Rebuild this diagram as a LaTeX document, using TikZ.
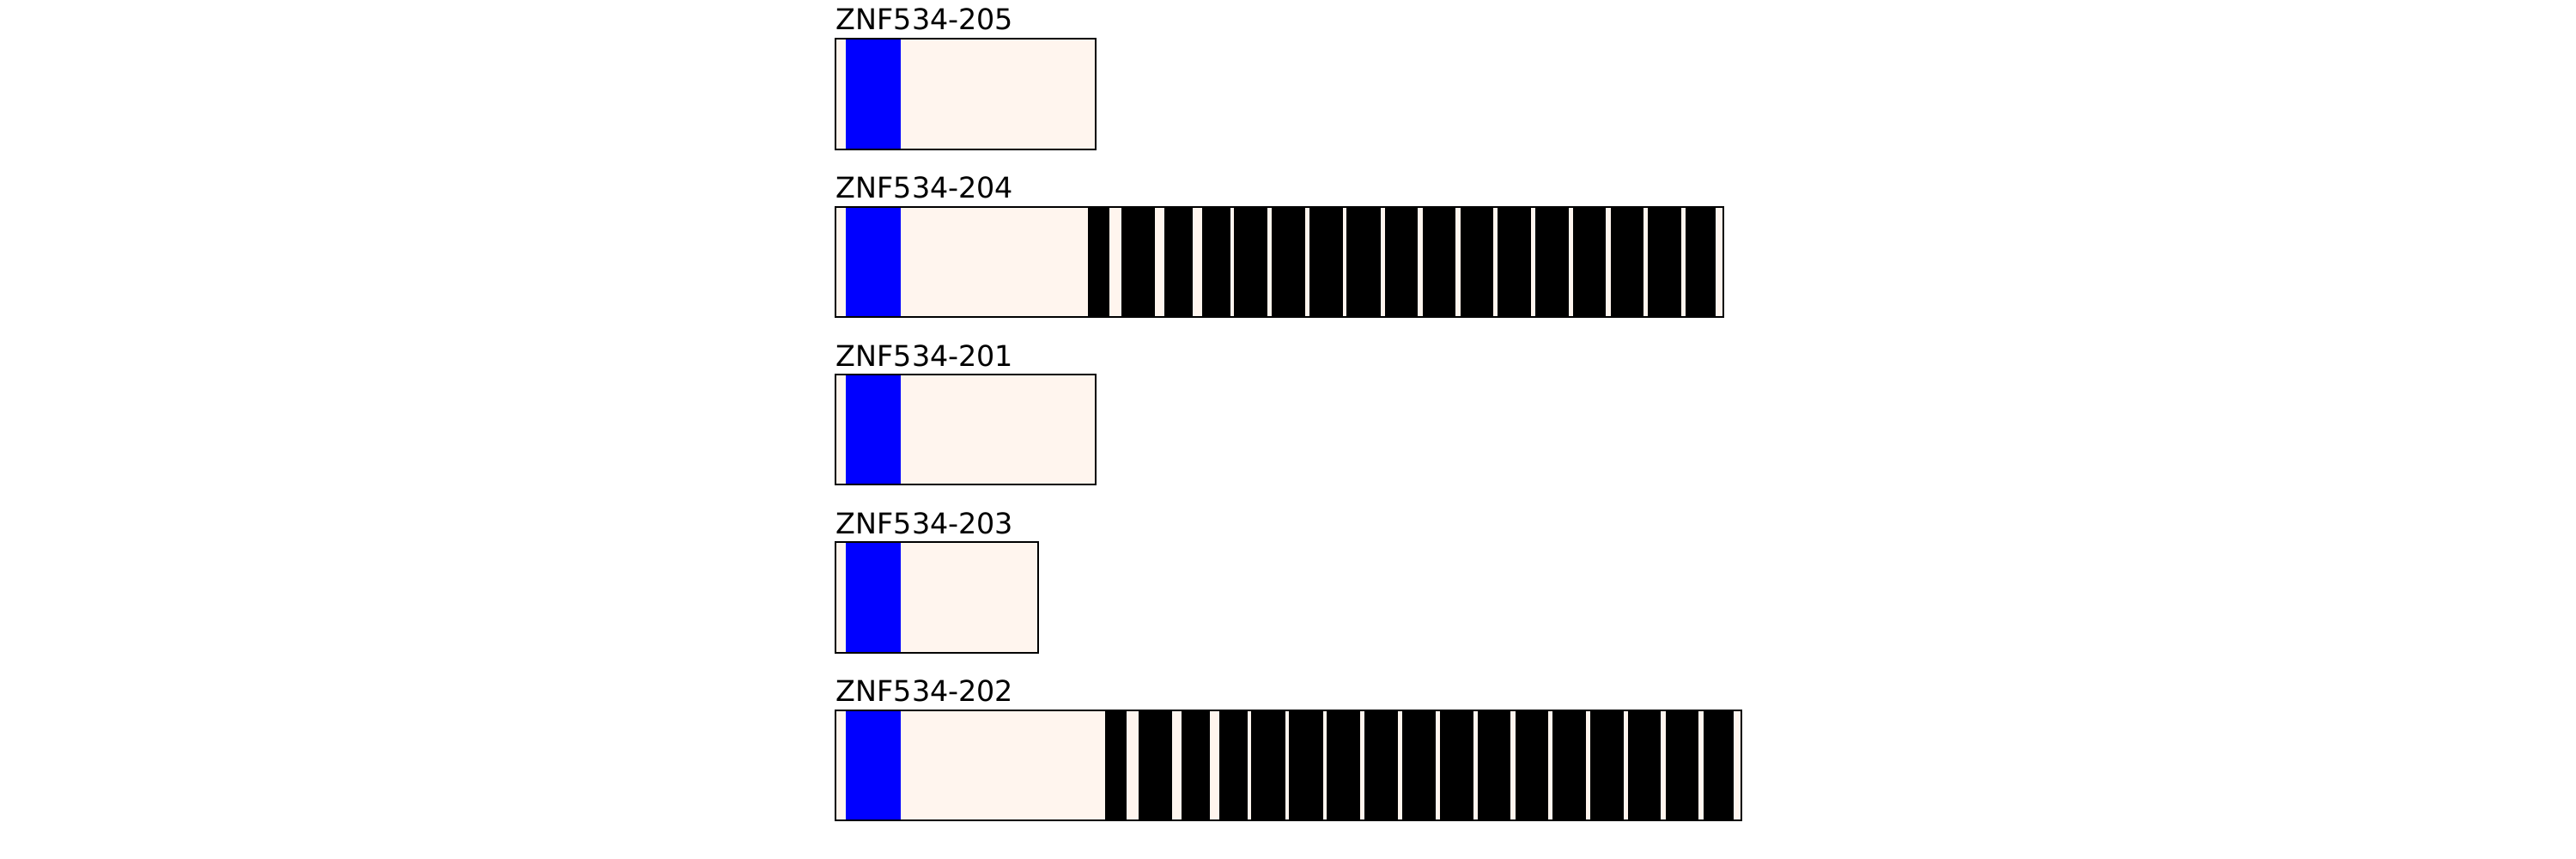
\documentclass[tikz,border=0pt]{standalone}
\usepackage{fontspec}
\setmainfont{DejaVu Sans}
\usepackage{tikz}

\definecolor{seashell}{HTML}{FFF5EE}

\tikzset{
    lbl/.style = {font = {\fontsize{9.5}{11}\selectfont}, black, anchor=base west, inner sep=0pt},
    utr/.style = {fill=seashell},
    cds/.style = {fill=blue},
    motif/.style = {fill=black, draw=black, line width=0.3pt},
    outline/.style = {draw=black, line width=0.7pt}
}

\begin{document}
\begin{tikzpicture}
        \useasboundingbox (0,0) rectangle (30,10);

        % ZNF534-205
        \node[lbl] (t205) at (9.73, 9.65) {ZNF534-205};
        \fill[utr] (9.73, 8.26) rectangle (12.76, 9.55);
        \fill[cds] (9.85, 8.26) rectangle (10.49, 9.55);
        \draw[outline] (9.73, 8.26) rectangle (12.76, 9.55);

        % ZNF534-204
        \node[lbl] (t204) at (9.73, 7.69) {ZNF534-204};
        \fill[utr] (9.73, 6.31) rectangle (20.07, 7.59);
        \fill[cds] (9.85, 6.31) rectangle (10.49, 7.59);
        \foreach \a/\b in {12.68/12.91, 13.07/13.44, 13.57/13.88, 14.01/14.32, 14.38/14.75,
                           14.82/15.19, 15.26/15.63, 15.69/16.07, 16.13/16.50, 16.57/16.94,
                           17.01/17.38, 17.44/17.82, 17.88/18.26, 18.32/18.69, 18.76/19.13,
                           19.19/19.57, 19.63/19.97}
            \filldraw[motif] (\a, 6.31) rectangle (\b, 7.59);
        \draw[outline] (9.73, 6.31) rectangle (20.07, 7.59);

        % ZNF534-201
        \node[lbl] (t201) at (9.73, 5.735) {ZNF534-201};
        \fill[utr] (9.73, 4.36) rectangle (12.76, 5.64);
        \fill[cds] (9.85, 4.36) rectangle (10.49, 5.64);
        \draw[outline] (9.73, 4.36) rectangle (12.76, 5.64);

        % ZNF534-203
        \node[lbl] (t203) at (9.73, 3.785) {ZNF534-203};
        \fill[utr] (9.73, 2.40) rectangle (12.09, 3.69);
        \fill[cds] (9.85, 2.40) rectangle (10.49, 3.69);
        \draw[outline] (9.73, 2.40) rectangle (12.09, 3.69);

        % ZNF534-202
        \node[lbl] (t202) at (9.73, 1.83) {ZNF534-202};
        \fill[utr] (9.73, 0.45) rectangle (20.28, 1.73);
        \fill[cds] (9.85, 0.45) rectangle (10.49, 1.73);
        \foreach \a/\b in {12.88/13.11, 13.27/13.64, 13.77/14.08, 14.21/14.52, 14.58/14.96,
                           15.02/15.40, 15.46/15.83, 15.90/16.27, 16.33/16.71, 16.77/17.15,
                           17.21/17.58, 17.65/18.02, 18.08/18.46, 18.52/18.90, 18.96/19.33,
                           19.40/19.77, 19.84/20.18}
            \filldraw[motif] (\a, 0.45) rectangle (\b, 1.73);
        \draw[outline] (9.73, 0.45) rectangle (20.28, 1.73);
    \end{tikzpicture}
\end{document}
